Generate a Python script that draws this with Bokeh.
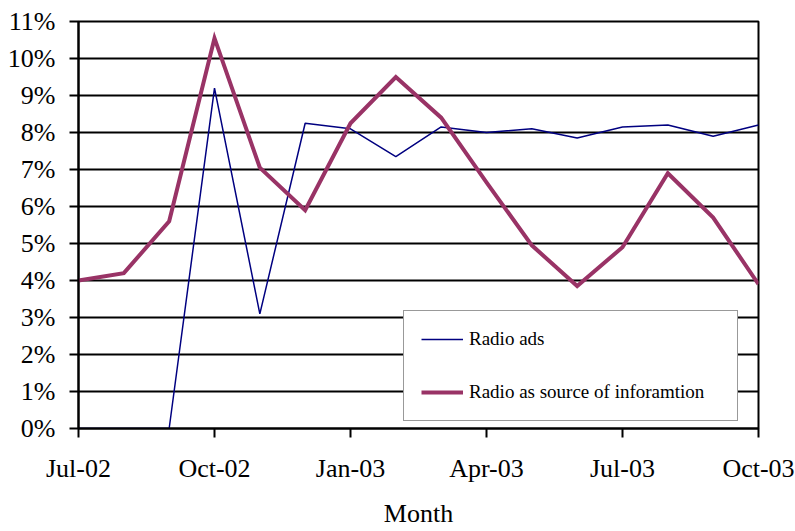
from bokeh.plotting import figure
from bokeh.models import ColumnDataSource, FixedTicker, PrintfTickFormatter, Range1d, Legend, LegendItem
from bokeh.embed import file_html
from bokeh.resources import INLINE

months = ["Jul-02", "Aug-02", "Sep-02", "Oct-02", "Nov-02", "Dec-02", "Jan-03", "Feb-03",
          "Mar-03", "Apr-03", "May-03", "Jun-03", "Jul-03", "Aug-03", "Sep-03", "Oct-03"]
radio_ads = [0, 0, 0, 9.2, 3.1, 8.25, 8.1, 7.35, 8.15, 8.0, 8.1, 7.85, 8.15, 8.2, 7.9, 8.2]
radio_info = [4.0, 4.2, 5.6, 10.55, 7.05, 5.9, 8.25, 9.5, 8.4, 6.65, 4.95, 3.85, 4.9, 6.9, 5.7, 3.9]
tick_months = ["Jul-02", "Oct-02", "Jan-03", "Apr-03", "Jul-03", "Oct-03"]
y_ticks = list(range(0, 12))

FONT = "Liberation Serif"

x = list(range(len(months)))
src = ColumnDataSource(dict(x=x, ads=radio_ads, info=radio_info))

p = figure(width=795, height=531, output_backend="svg", toolbar_location=None,
           x_range=Range1d(0, len(months) - 1), y_range=Range1d(0, 11),
           min_border_left=78, min_border_right=37, min_border_top=21, min_border_bottom=103)

p.background_fill_color = "white"
p.border_fill_color = "white"
p.outline_line_color = "black"
p.outline_line_width = 2

tick_pos = [months.index(m) for m in tick_months]
p.xaxis.ticker = FixedTicker(ticks=tick_pos)
p.xaxis.major_label_overrides = {i: months[i] for i in tick_pos}
p.yaxis.ticker = FixedTicker(ticks=y_ticks)
p.yaxis.formatter = PrintfTickFormatter(format="%d%%")

for ax in (p.xaxis, p.yaxis):
    ax.axis_line_color = "black"
    ax.axis_line_width = 2
    ax.major_tick_line_color = "black"
    ax.major_tick_line_width = 2
    ax.major_tick_out = 9
    ax.major_tick_in = 0
    ax.minor_tick_line_color = None
    ax.major_label_text_font = FONT
    ax.major_label_text_font_size = "26px"
    ax.major_label_text_color = "black"

p.yaxis.major_label_standoff = 14
p.xaxis.major_label_standoff = 16
p.xaxis.axis_label = "Month"
p.xaxis.axis_label_text_font = FONT
p.xaxis.axis_label_text_font_size = "26px"
p.xaxis.axis_label_text_font_style = "normal"
p.xaxis.axis_label_text_color = "black"
p.xaxis.axis_label_standoff = 13

p.xgrid.grid_line_color = None
p.ygrid.grid_line_color = "black"
p.ygrid.grid_line_width = 2

r1 = p.line("x", "ads", source=src, line_color="#000080", line_width=1.5)
r2 = p.line("x", "info", source=src, line_color="#993366", line_width=4, line_join="miter")

legend = Legend(items=[LegendItem(label="Radio ads", renderers=[r1]),
                       LegendItem(label="Radio as source of inforamtion", renderers=[r2])],
                location=(325, 7))
legend.label_text_font = FONT
legend.label_text_font_size = "19px"
legend.label_text_color = "black"
legend.glyph_width = 42
legend.glyph_height = 20
legend.label_height = 20
legend.label_width = 251
legend.spacing = 31
legend.padding = 17
legend.label_standoff = 6
legend.margin = 0
legend.border_line_color = "#333333"
legend.border_line_width = 1
legend.background_fill_color = "white"
legend.background_fill_alpha = 1
p.add_layout(legend, "center")

open("out.html", "w").write(file_html(p, INLINE))
